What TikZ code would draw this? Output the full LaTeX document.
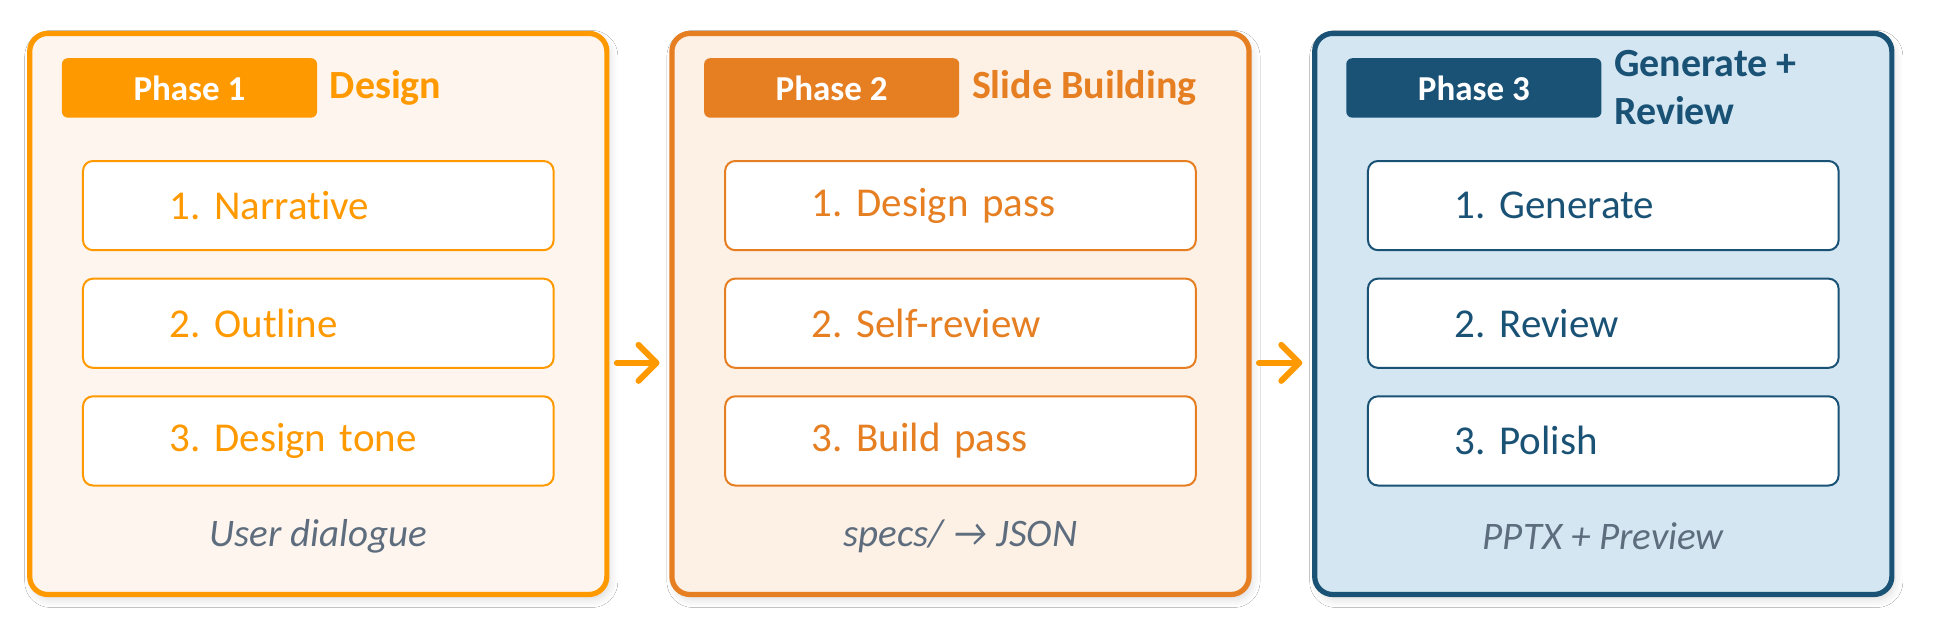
\documentclass[tikz,border=0pt]{standalone}
\usepackage{fontspec}
\setmainfont{Carlito}[Ligatures=NoCommon]
\usetikzlibrary{arrows.meta,shadows.blur}
\definecolor{orA}{HTML}{FF9900}
\definecolor{orAfill}{HTML}{FEF5EE}
\definecolor{orB}{HTML}{E67E22}
\definecolor{orBfill}{HTML}{FDF0E5}
\definecolor{blC}{HTML}{1A5276}
\definecolor{blCfill}{HTML}{D4E6F1}
\definecolor{footgrey}{HTML}{5D6D7E}
\newcommand\pxu{0.61925pt}
\frenchspacing
\tikzset{
  panel/.style={draw=#1, line width=2.6pt, rounded corners=9pt, minimum width=466*\pxu, minimum height=453*\pxu, inner sep=0pt, outer sep=0pt,
    blur shadow={shadow xshift=1.5pt, shadow yshift=-2.5pt, shadow blur radius=4pt, shadow opacity=14}},
  badge/.style={fill=#1, rounded corners=3pt, minimum width=206*\pxu, minimum height=48*\pxu, inner sep=0pt, outer sep=0pt,
    text=white, font=\fontsize{17.5pt}{21pt}\selectfont\bfseries},
  ptitle/.style={text=#1, anchor=west, align=left, inner sep=0pt, font=\fontsize{20pt}{24pt}\selectfont\bfseries},
  item/.style={draw=#1, fill=white, line width=1pt, rounded corners=5pt, text=#1, align=left,
    text width=240*\pxu, inner xsep=70*\pxu, inner ysep=0pt, minimum height=72*\pxu, outer sep=0pt,
    font=\fontsize{20.5pt}{24pt}\selectfont},
  foot/.style={text=footgrey, inner sep=0pt, font=\fontsize{19.5pt}{23pt}\selectfont\itshape},
  flow/.style={draw=orA, line width=3pt, line cap=round,
    -{Straight Barb[length=9pt,width=18pt,round]}, shorten <=8*\pxu, shorten >=10*\pxu}
}
\begin{document}
\begin{tikzpicture}[x=0.61925pt,y=-0.61925pt]
\useasboundingbox[fill=white] (0,0) rectangle (1568,515.1);

% Panels
\node[panel=orA, fill=orAfill] (p1) at (257,253.5) {};
\node[panel=orB, fill=orBfill] (p2) at (775.5,253.5) {};
\node[panel=blC, fill=blCfill] (p3) at (1294.5,253.5) {};

% Phase 1
\node[badge=orA] (b1) at (153,71) {Phase 1};
\node[ptitle=orA] (t1) at ([xshift=10*\pxu]b1.east) {Design};
\node[item=orA] (i11) at (257,166) {1. Narrative};
\node[item=orA] (i12) at (257,261) {2. Outline};
\node[item=orA] (i13) at (257,356) {3. Design tone};
\node[foot] (f1) at (257,433) {User dialogue};

% Phase 2
\node[badge=orB] (b2) at (671.5,71) {Phase 2};
\node[ptitle=orB] (t2) at ([xshift=10*\pxu]b2.east) {Slide Building};
\node[item=orB] (i21) at (775.5,166) {1. Design pass};
\node[item=orB] (i22) at (775.5,261) {2. Self-review};
\node[item=orB] (i23) at (775.5,356) {3. Build pass};
\node[foot] (f2) at (775.5,433) {specs/ → JSON};

% Phase 3
\node[badge=blC] (b3) at (1190,71) {Phase 3};
\node[ptitle=blC] (t3) at ([xshift=10*\pxu]b3.east) {Generate +\\Review};
\node[item=blC] (i31) at (1294.5,166) {1. Generate};
\node[item=blC] (i32) at (1294.5,261) {2. Review};
\node[item=blC] (i33) at (1294.5,356) {3. Polish};
\node[foot] (f3) at (1294.5,433) {PPTX + Preview};

% Connectors
\draw[flow] ([yshift=-39.5*\pxu]p1.east) -- ([yshift=-39.5*\pxu]p2.west);
\draw[flow] ([yshift=-39.5*\pxu]p2.east) -- ([yshift=-39.5*\pxu]p3.west);
\end{tikzpicture}
\end{document}
